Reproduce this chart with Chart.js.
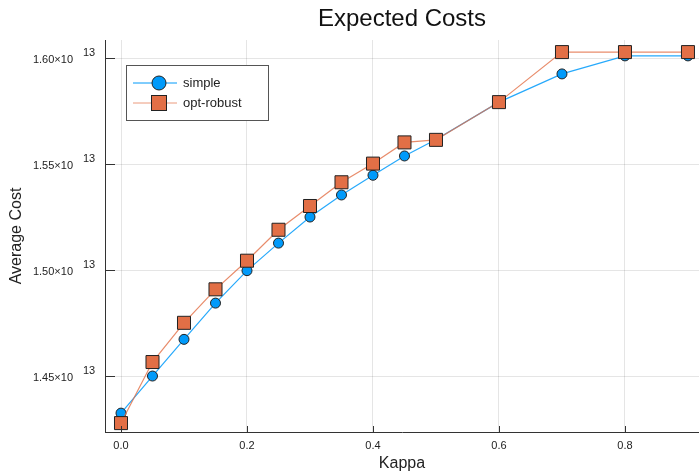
<!DOCTYPE html>
<html><head><meta charset="utf-8">
<script src="https://cdn.jsdelivr.net/npm/chart.js@4/dist/chart.umd.min.js"></script>
<style>html,body{margin:0;padding:0;background:#fff}#wrap{width:699px;height:476px}</style>
</head><body><div id="wrap"><canvas id="c" width="699" height="476"></canvas></div>
<script>
// ---- data ----
const kappa = [0, 0.05, 0.1, 0.15, 0.2, 0.25, 0.3, 0.35, 0.4, 0.45, 0.5, 0.6, 0.7, 0.8, 0.9];
const simple = [1.4325e13, 1.4500e13, 1.4673e13, 1.4844e13, 1.4997e13, 1.5127e13, 1.5250e13, 1.5354e13, 1.5447e13, 1.5538e13, 1.5616e13, 1.5792e13, 1.5925e13, 1.6010e13, 1.6010e13];
const optRobust = [1.4278e13, 1.4566e13, 1.4751e13, 1.4909e13, 1.5044e13, 1.5190e13, 1.5302e13, 1.5414e13, 1.5502e13, 1.5602e13, 1.5614e13, 1.5792e13, 1.6028e13, 1.6028e13, 1.6028e13];
const xTicks = [0, 0.2, 0.4, 0.6, 0.8];
const yTicks = [1.45e13, 1.50e13, 1.55e13, 1.60e13];
const yExponent = '13';
const seriesNames = ['simple', 'opt-robust'];
const titleText = 'Expected Costs';
const xTitle = 'Kappa';
const yTitle = 'Average Cost';

const FF = "'Liberation Sans', Arial, Helvetica, sans-serif";
const BLUE = '#009AFA', ORANGE = '#E26F46';

const deco = {
  id: 'deco',
  afterDraw(chart) {
    const {ctx, chartArea: a, scales: {x, y}} = chart;
    ctx.save();
    ctx.strokeStyle = '#333'; ctx.lineWidth = 1;
    // inner ticks
    yTicks.forEach(v => {
      const py = Math.round(y.getPixelForValue(v)) + 0.5;
      ctx.beginPath(); ctx.moveTo(a.left, py); ctx.lineTo(a.left + 10, py); ctx.stroke();
    });
    xTicks.forEach(v => {
      const px = Math.round(x.getPixelForValue(v)) + 0.5;
      ctx.beginPath(); ctx.moveTo(px, a.bottom); ctx.lineTo(px, a.bottom - 6); ctx.stroke();
    });
    // exponents
    ctx.fillStyle = '#222';
    ctx.font = '11px ' + FF; ctx.textAlign = 'left'; ctx.textBaseline = 'middle';
    yTicks.forEach(v => {
      const py = y.getPixelForValue(v);
      ctx.fillText(yExponent, 83, py - 5);
    });
    // title
    const cx = (a.left + a.right) / 2;
    ctx.fillStyle = '#111';
    ctx.font = '24px ' + FF; ctx.textAlign = 'center';
    ctx.fillText(titleText, cx, 19);
    // axis titles
    ctx.fillStyle = '#222';
    ctx.font = '16px ' + FF;
    ctx.fillText(xTitle, cx, 464);
    ctx.save();
    ctx.translate(17, (a.top + a.bottom) / 2);
    ctx.rotate(-Math.PI / 2);
    ctx.fillText(yTitle, 0, 0);
    ctx.restore();
    // legend
    const lx = 126.5, ly = 65.5, lw = 142, lh = 55;
    ctx.fillStyle = '#fff'; ctx.fillRect(lx, ly, lw, lh);
    ctx.strokeStyle = '#555'; ctx.lineWidth = 1; ctx.strokeRect(lx, ly, lw, lh);
    const rows = [83, 103];
    // simple
    ctx.strokeStyle = BLUE; ctx.lineWidth = 1;
    ctx.beginPath(); ctx.moveTo(133, rows[0]); ctx.lineTo(177, rows[0]); ctx.stroke();
    ctx.fillStyle = BLUE; ctx.strokeStyle = '#222';
    ctx.beginPath(); ctx.arc(159, rows[0], 7, 0, Math.PI * 2); ctx.fill(); ctx.stroke();
    // opt-robust
    ctx.strokeStyle = 'rgba(226,111,70,0.7)';
    ctx.beginPath(); ctx.moveTo(133, rows[1]); ctx.lineTo(177, rows[1]); ctx.stroke();
    ctx.fillStyle = ORANGE; ctx.strokeStyle = '#222';
    ctx.fillRect(151, rows[1] - 8, 16, 16); ctx.strokeRect(151.5, rows[1] - 7.5, 15, 15);
    ctx.fillStyle = '#222'; ctx.font = '13px ' + FF; ctx.textAlign = 'left';
    ctx.fillText(seriesNames[0], 183, rows[0]);
    ctx.fillText(seriesNames[1], 183, rows[1]);
    ctx.restore();
  }
};

new Chart(document.getElementById('c'), {
  type: 'line',
  data: {
    datasets: [
      {
        label: seriesNames[0],
        data: kappa.map((k, i) => ({x: k, y: simple[i]})),
        borderColor: 'rgba(0,154,250,0.85)', borderWidth: 1.2,
        pointStyle: 'circle', pointRadius: 5, pointBackgroundColor: BLUE,
        pointBorderColor: '#222', pointBorderWidth: 1, order: 1, tension: 0
      },
      {
        label: seriesNames[1],
        data: kappa.map((k, i) => ({x: k, y: optRobust[i]})),
        borderColor: 'rgba(226,111,70,0.8)', borderWidth: 1.2,
        pointStyle: 'rect', pointRadius: 9.2, pointBackgroundColor: ORANGE,
        pointBorderColor: '#222', pointBorderWidth: 1, order: 0, tension: 0
      }
    ]
  },
  options: {
    responsive: false, devicePixelRatio: 1, animation: false,
    layout: {autoPadding: false, padding: {top: 40, left: 0, right: 0, bottom: 0}},
    plugins: {legend: {display: false}, title: {display: false}, tooltip: {enabled: false}},
    elements: {line: {fill: false}},
    scales: {
      x: {
        type: 'linear', min: -0.0254, max: 0.9175,
        afterBuildTicks: s => { s.ticks = xTicks.map(v => ({value: v})); },
        afterFit: s => { s.height = 44; s.paddingLeft = 0; s.paddingRight = 0; },
        grid: {color: 'rgba(0,0,0,0.1)', drawTicks: false},
        border: {display: true, color: '#333', width: 1},
        ticks: {padding: 7, color: '#222', font: {family: FF, size: 11}, callback: v => v.toFixed(1), maxRotation: 0}
      },
      y: {
        type: 'linear', min: 1.4236e13, max: 1.6085e13,
        afterBuildTicks: s => { s.ticks = yTicks.map(v => ({value: v})); },
        afterFit: s => { s.width = 105; s.paddingTop = 0; s.paddingBottom = 0; },
        grid: {color: 'rgba(0,0,0,0.1)', drawTicks: false},
        border: {display: true, color: '#333', width: 1},
        ticks: {padding: 32, color: '#222', font: {family: FF, size: 11}, labelOffset: 2,
                callback: v => (v / 1e13).toFixed(2) + '×10'}
      }
    }
  },
  plugins: [deco]
});
</script></body></html>
